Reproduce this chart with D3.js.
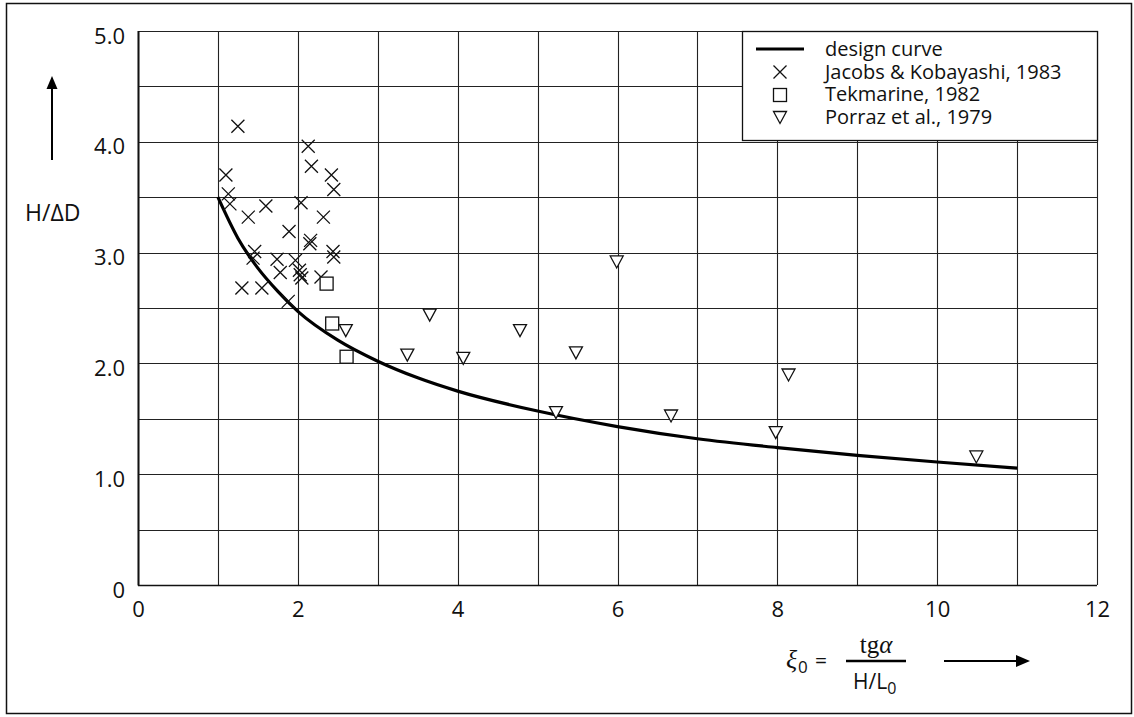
<!DOCTYPE html>
<html>
<head>
<meta charset="utf-8">
<script src="https://cdn.jsdelivr.net/npm/d3@7"></script>
<style>
  body { margin: 0; background: #fff; }
</style>
</head>
<body>
<script>
(function() {
    var W = 1134, H = 717;
    var left = 138, right = 1097, top = 31, bottom = 585;
    var sans = "'Open Sans', 'DejaVu Sans', sans-serif";
    var serif = "'Liberation Serif', 'DejaVu Serif', serif";

    // design curve
    var curveX = [1.0, 1.25, 1.5, 1.75, 2.0, 2.5, 3.0, 3.5, 4.0, 5.0, 6.0, 7.0, 8.0, 9.0, 10.0, 11.0];
    var curveY = [3.50, 3.13, 2.86, 2.65, 2.47, 2.21, 2.02, 1.87, 1.75, 1.57, 1.43, 1.32, 1.24, 1.17, 1.11, 1.055];

    // Jacobs & Kobayashi, 1983
    var jacobsX = [1.25, 2.13, 2.17, 1.10, 1.13, 1.15, 1.60, 1.38, 2.04, 2.42, 2.45, 2.32, 1.89, 2.16, 2.15,
                   2.44, 2.45, 1.46, 1.44, 1.74, 1.97, 2.02, 2.03, 2.05, 1.78, 2.29, 1.30, 1.55, 1.88];
    var jacobsY = [4.14, 3.96, 3.78, 3.70, 3.53, 3.44, 3.42, 3.32, 3.45, 3.70, 3.57, 3.32, 3.19, 3.11, 3.08,
                   3.01, 2.96, 3.01, 2.95, 2.94, 2.93, 2.84, 2.80, 2.77, 2.82, 2.78, 2.68, 2.68, 2.56];

    // Tekmarine, 1982
    var tekX = [2.36, 2.43, 2.61];
    var tekY = [2.72, 2.36, 2.06];

    // Porraz et al., 1979
    var porrazX = [2.60, 3.37, 3.65, 4.07, 4.78, 5.23, 5.48, 5.99, 6.67, 7.98, 8.14, 10.49];
    var porrazY = [2.30, 2.08, 2.44, 2.05, 2.30, 1.56, 2.10, 2.92, 1.53, 1.38, 1.90, 1.16];

    var xLabels = [0, 2, 4, 6, 8, 10, 12];
    var yLabels = [0, 1, 2, 3, 4, 5];
    var legendNames = ["design curve", "Jacobs & Kobayashi, 1983", "Tekmarine, 1982", "Porraz et al., 1979"];

    var svg = d3.select("body").append("svg")
        .attr("width", W)
        .attr("height", H)
        .attr("font-family", sans);

    // outer frame
    svg.append("rect")
        .attr("x", 6.5).attr("y", 3.5)
        .attr("width", 1125).attr("height", 710)
        .attr("fill", "none").attr("stroke", "#111").attr("stroke-width", 1.5);

    var x = d3.scaleLinear().domain([0, 12]).range([left, right]);
    var y = d3.scaleLinear().domain([0, 5]).range([bottom, top]);

    // grid
    var grid = svg.append("g").attr("stroke", "#222").attr("stroke-width", 1.1);
    grid.selectAll("line.v").data(d3.range(0, 13))
        .enter().append("line")
        .attr("x1", function(d) { return Math.round(x(d)) + 0.5; })
        .attr("x2", function(d) { return Math.round(x(d)) + 0.5; })
        .attr("y1", top).attr("y2", bottom);
    grid.selectAll("line.h").data(d3.range(0, 11).map(function(i) { return i * 0.5; }))
        .enter().append("line")
        .attr("y1", function(d) { return Math.round(y(d)) + 0.5; })
        .attr("y2", function(d) { return Math.round(y(d)) + 0.5; })
        .attr("x1", left).attr("x2", right);
    svg.append("line").attr("x1", left + 0.5).attr("x2", left + 0.5)
        .attr("y1", top).attr("y2", bottom + 0.5)
        .attr("stroke", "#111").attr("stroke-width", 2);
    svg.append("line").attr("x1", left).attr("x2", right)
        .attr("y1", bottom + 0.5).attr("y2", bottom + 0.5)
        .attr("stroke", "#111").attr("stroke-width", 1.6);

    // axes (labels only)
    var xAxis = svg.append("g")
        .attr("transform", "translate(0," + bottom + ")")
        .call(d3.axisBottom(x).tickValues(xLabels).tickSize(0).tickPadding(16)
            .tickFormat(function(d) { return d; }));
    var yAxis = svg.append("g")
        .attr("transform", "translate(" + left + ",0)")
        .call(d3.axisLeft(y).tickValues(yLabels).tickSize(0).tickPadding(13)
            .tickFormat(function(d) { return d === 0 ? "0" : d.toFixed(1); }));
    [xAxis, yAxis].forEach(function(a) {
        a.select(".domain").remove();
        a.attr("font-family", sans).attr("font-size", 22);
        a.selectAll("text").attr("fill", "#111");
    });
    yAxis.selectAll("text").attr("dy", "0.55em");

    // design curve
    var line = d3.line()
        .x(function(d) { return x(d[0]); })
        .y(function(d) { return y(d[1]); })
        .curve(d3.curveMonotoneX);
    svg.append("path")
        .datum(d3.zip(curveX, curveY))
        .attr("d", line)
        .attr("fill", "none").attr("stroke", "#000").attr("stroke-width", 3.2);

    function cross(g, cx, cy) {
        var s = 6.5;
        g.append("path")
            .attr("d", "M" + (cx - s) + "," + (cy - s) + "L" + (cx + s) + "," + (cy + s) +
                       "M" + (cx - s) + "," + (cy + s) + "L" + (cx + s) + "," + (cy - s))
            .attr("stroke", "#111").attr("stroke-width", 1.3).attr("fill", "none");
    }
    function square(g, cx, cy) {
        g.append("rect")
            .attr("x", cx - 6.5).attr("y", cy - 6.5)
            .attr("width", 13).attr("height", 13)
            .attr("fill", "#fff").attr("stroke", "#111").attr("stroke-width", 1.3);
    }
    function triangle(g, cx, cy) {
        g.append("path")
            .attr("d", "M" + (cx - 6.5) + "," + (cy - 5.5) + "L" + (cx + 6.5) + "," + (cy - 5.5) +
                       "L" + cx + "," + (cy + 6.5) + "Z")
            .attr("fill", "#fff").attr("stroke", "#111").attr("stroke-width", 1.3);
    }

    var marks = svg.append("g");
    jacobsX.forEach(function(v, i) { cross(marks, x(v), y(jacobsY[i])); });
    tekX.forEach(function(v, i) { square(marks, x(v), y(tekY[i])); });
    porrazX.forEach(function(v, i) { triangle(marks, x(v), y(porrazY[i])); });

    // legend
    var lg = svg.append("g");
    lg.append("rect")
        .attr("x", 742.5).attr("y", top + 0.5)
        .attr("width", right - 742).attr("height", 109)
        .attr("fill", "#fff").attr("stroke", "#111").attr("stroke-width", 1.3);
    lg.append("line").attr("x1", 756).attr("x2", 804).attr("y1", 49).attr("y2", 49)
        .attr("stroke", "#000").attr("stroke-width", 3.2);
    cross(lg, 780, 72);
    square(lg, 780, 95);
    triangle(lg, 780, 117);
    legendNames.forEach(function(n, i) {
        lg.append("text")
            .attr("x", 825).attr("y", 56 + i * 22.5)
            .attr("font-size", 20)
            .attr("fill", "#111")
            .text(n);
    });

    // y axis title and arrow
    svg.append("text")
        .attr("x", 25).attr("y", 221)
        .attr("font-size", 23)
        .attr("fill", "#111")
        .text("H/\u0394D");
    svg.append("line").attr("x1", 52).attr("x2", 52).attr("y1", 160).attr("y2", 86)
        .attr("stroke", "#000").attr("stroke-width", 2);
    svg.append("path").attr("d", "M52,76 L46.5,89 L57.5,89 Z").attr("fill", "#000");

    // x axis title
    var xt = svg.append("g").attr("fill", "#111");
    xt.append("text")
        .attr("x", 786).attr("y", 668)
        .attr("font-family", serif)
        .attr("font-style", "italic")
        .attr("font-size", 26)
        .text("\u03BE");
    xt.append("text")
        .attr("x", 798).attr("y", 673)
        .attr("font-size", 17)
        .text("0");
    xt.append("text")
        .attr("x", 815).attr("y", 668)
        .attr("font-size", 21)
        .text("=");
    var tg = xt.append("text")
        .attr("x", 876).attr("y", 653)
        .attr("text-anchor", "middle")
        .attr("font-family", serif)
        .attr("font-size", 25);
    tg.append("tspan").text("tg");
    tg.append("tspan").attr("font-style", "italic").text("\u03B1");
    xt.append("line").attr("x1", 846).attr("x2", 906).attr("y1", 661).attr("y2", 661)
        .attr("stroke", "#000").attr("stroke-width", 2.5);
    var hl = xt.append("text")
        .attr("x", 853).attr("y", 689)
        .attr("font-size", 21);
    hl.append("tspan").text("H/L");
    hl.append("tspan").attr("font-size", 16).attr("dy", 5).text("0");
    xt.append("line").attr("x1", 944).attr("x2", 1018).attr("y1", 661).attr("y2", 661)
        .attr("stroke", "#000").attr("stroke-width", 2);
    xt.append("path").attr("d", "M1030,661 L1016,655 L1016,667 Z").attr("fill", "#000");
})();
</script>
</body>
</html>
